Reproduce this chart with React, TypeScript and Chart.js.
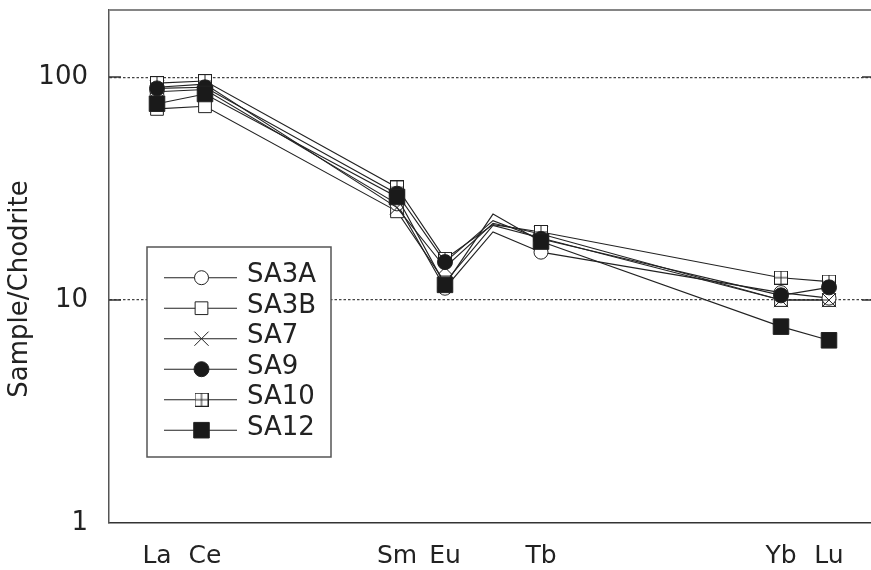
import React, { useEffect, useRef } from 'react';
import { Chart, registerables } from 'chart.js';
import { drawPoint } from 'chart.js/helpers';

Chart.register(...registerables);

// Rare-earth elements (x = atomic number); Gd is a line vertex without a marker
const elementNames = ['La', 'Ce', 'Sm', 'Eu', 'Gd', 'Tb', 'Yb', 'Lu'];
const atomicNumbers = [57, 58, 62, 63, 64, 65, 70, 71];
const markerShown = [true, true, true, true, false, true, true, true];

const xTickValues = [57, 58, 62, 63, 65, 70, 71];
const xTickLabels = ['La', 'Ce', 'Sm', 'Eu', 'Tb', 'Yb', 'Lu'];
const yTickValues = [1, 10, 100];

const seriesNames = ['SA3A', 'SA3B', 'SA7', 'SA9', 'SA10', 'SA12'];
const sa3a = [86, 88, 27, 11.3, 20.2, 16.4, 10.8, 10.2];
const sa3b = [72, 74, 25, 12.0, 21.6, 19.0, 10.0, 10.0];
const sa7 = [90, 93, 26, 14.0, 22.1, 19.8, 10.0, 10.0];
const sa9 = [89, 90, 30, 14.8, 22.7, 18.8, 10.5, 11.4];
const sa10 = [94, 96, 32, 15.3, 21.8, 20.2, 12.6, 12.1];
const sa12 = [76, 84, 29, 11.7, 24.3, 18.3, 7.6, 6.6];

const FONT = "'DejaVu Sans', sans-serif";

function makePlusSquare(): HTMLCanvasElement {
  const c = document.createElement('canvas');
  c.width = 14;
  c.height = 14;
  const g = c.getContext('2d')!;
  g.fillStyle = '#fff';
  g.fillRect(0.5, 0.5, 13, 13);
  g.strokeStyle = '#222';
  g.lineWidth = 1;
  g.strokeRect(0.5, 0.5, 13, 13);
  g.beginPath();
  g.moveTo(7, 0.5);
  g.lineTo(7, 13.5);
  g.moveTo(0.5, 7);
  g.lineTo(13.5, 7);
  g.stroke();
  return c;
}

export default function App() {
  const ref = useRef<HTMLCanvasElement | null>(null);

  useEffect(() => {
    document.body.style.margin = '0';
    const plus = makePlusSquare();
    const styles: any[] = [
      { pointStyle: 'circle', radius: 7, bg: '#fff', order: 4 },
      { pointStyle: 'rect', radius: 9, bg: '#fff', order: 5 },
      { pointStyle: 'crossRot', radius: 10, bg: '#fff', order: 3 },
      { pointStyle: 'circle', radius: 7.5, bg: '#1a1a1a', order: 1 },
      { pointStyle: plus, radius: 7, bg: '#fff', order: 2 },
      { pointStyle: 'rect', radius: 11, bg: '#1a1a1a', order: 0 },
    ];
    const values = [sa3a, sa3b, sa7, sa9, sa10, sa12];

    const datasets = seriesNames.map((name, i) => ({
      label: name,
      data: values[i].map((v, k) => ({ x: atomicNumbers[k], y: v })),
      borderColor: '#222',
      borderWidth: 1.1,
      pointStyle: styles[i].pointStyle,
      pointRadius: markerShown.map((m) => (m ? styles[i].radius : 0)),
      pointBackgroundColor: styles[i].bg,
      pointBorderColor: '#222',
      pointBorderWidth: 1,
      order: styles[i].order,
      tension: 0,
      clip: false,
    }));

    const overlay = {
      id: 'overlay',
      afterDraw(chart: any) {
        const { ctx, chartArea: a, scales } = chart;
        ctx.save();
        // top frame line
        ctx.strokeStyle = '#858585';
        ctx.lineWidth = 2;
        ctx.beginPath();
        ctx.moveTo(a.left, a.top);
        ctx.lineTo(a.right, a.top);
        ctx.stroke();
        // inner solid ticks
        ctx.strokeStyle = '#333';
        ctx.lineWidth = 1.5;
        for (const v of [10, 100]) {
          const y = scales.y.getPixelForValue(v);
          ctx.beginPath();
          ctx.moveTo(a.left, y);
          ctx.lineTo(a.left + 12, y);
          ctx.moveTo(a.right - 9, y);
          ctx.lineTo(a.right, y);
          ctx.stroke();
        }
        // y title
        ctx.save();
        ctx.translate(27, 289);
        ctx.rotate(-Math.PI / 2);
        ctx.fillStyle = '#222';
        ctx.font = `26px ${FONT}`;
        ctx.textAlign = 'center';
        ctx.textBaseline = 'alphabetic';
        ctx.fillText('Sample/Chodrite', 0, 0);
        ctx.restore();
        // legend box
        const bx = 147, by = 247, bw = 184, bh = 210;
        ctx.fillStyle = '#fff';
        ctx.fillRect(bx, by, bw, bh);
        ctx.strokeStyle = '#555';
        ctx.lineWidth = 1.5;
        ctx.strokeRect(bx, by, bw, bh);
        chart.data.datasets.forEach((ds: any, i: number) => {
          const ry = 277.7 + i * 30.5;
          ctx.strokeStyle = '#222';
          ctx.lineWidth = 1.1;
          ctx.beginPath();
          ctx.moveTo(164, ry);
          ctx.lineTo(237, ry);
          ctx.stroke();
          ctx.fillStyle = styles[i].bg;
          ctx.strokeStyle = '#222';
          ctx.lineWidth = 1;
          drawPoint(ctx, { pointStyle: styles[i].pointStyle, radius: styles[i].radius, rotation: 0, borderWidth: 1 } as any, 201.5, ry);
          ctx.fillStyle = '#222';
          ctx.font = `26px ${FONT}`;
          ctx.textAlign = 'left';
          ctx.textBaseline = 'middle';
          ctx.fillText(ds.label, 247, ry - 2);
        });
        ctx.restore();
      },
    };

    const chart = new Chart(ref.current!, {
      type: 'line',
      data: { datasets },
      options: {
        responsive: false,
        animation: false,
        layout: { autoPadding: false, padding: { top: 10, left: 0, right: 0, bottom: 0 } },
        plugins: { legend: { display: false }, tooltip: { enabled: false } },
        scales: {
          x: {
            type: 'linear',
            min: 56,
            max: 71.875,
            afterBuildTicks: (s: any) => {
              s.ticks = xTickValues.map((v) => ({ value: v }));
            },
            afterFit: (s: any) => {
              s.height = 47;
              s.paddingLeft = 0;
              s.paddingRight = 0;
              s.paddingTop = 0;
              s.paddingBottom = 0;
            },
            ticks: {
              autoSkip: false,
              maxRotation: 0,
              padding: 18,
              color: '#222',
              font: { family: FONT, size: 25 },
              callback: (v: any) => xTickLabels[xTickValues.indexOf(Number(v))] ?? '',
            },
            grid: { display: false, drawTicks: false },
            border: { display: true, color: '#333', width: 1.5 },
          },
          y: {
            type: 'logarithmic',
            min: 1,
            max: 200,
            afterBuildTicks: (s: any) => {
              s.ticks = yTickValues.map((v) => ({ value: v }));
            },
            afterFit: (s: any) => {
              s.width = 109;
              s.paddingLeft = 0;
              s.paddingRight = 0;
              s.paddingTop = 0;
              s.paddingBottom = 0;
            },
            ticks: {
              padding: 21,
              color: '#222',
              font: { family: FONT, size: 26 },
              callback: (v: any) => String(v),
            },
            grid: {
              drawTicks: false,
              lineWidth: 1.2,
              color: (c: any) => (c.tick && (c.tick.value === 10 || c.tick.value === 100) ? '#444' : 'rgba(0,0,0,0)'),
            },
            border: { display: true, color: '#555', width: 1.5, dash: [2.5, 2] },
          },
        },
      },
      plugins: [overlay],
    } as any);
    return () => chart.destroy();
  }, []);

  return (
    <div style={{ width: 871, height: 570 }}>
      <canvas ref={ref} width={871} height={570} style={{ display: 'block' }} />
    </div>
  );
}
